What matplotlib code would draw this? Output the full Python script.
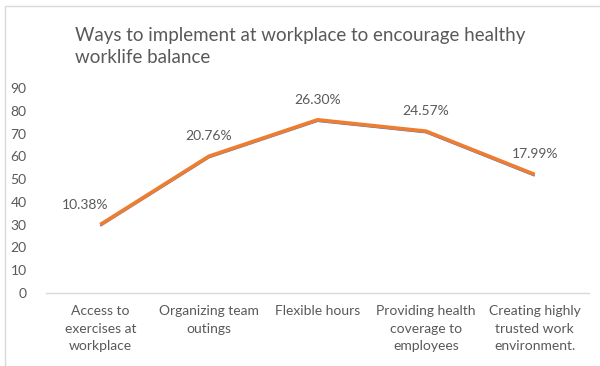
import matplotlib
matplotlib.use("Agg")
import matplotlib.pyplot as plt
import matplotlib.transforms as mtransforms
from matplotlib.patches import Rectangle

# data (counts out of 289 responses)
categories = ["Access to\nexercises at\nworkplace", "Organizing team\noutings",
              "Flexible hours", "Providing health\ncoverage to\nemployees",
              "Creating highly\ntrusted work\nenvironment."]
counts = [30, 60, 76, 71, 52]
pct_labels = ["10.38%", "20.76%", "26.30%", "24.57%", "17.99%"]
title = "Ways to implement at workplace to encourage healthy\nworklife balance"

plt.rcParams['font.family'] = ['Lato', 'DejaVu Sans']
grey = "#595959"

fig = plt.figure(figsize=(6, 3.66), dpi=100)
ax = fig.add_axes([0.0767, 0.1995, 0.905, 0.5601])

x = list(range(len(categories)))
# blue series peeking out just below the orange one
shift = mtransforms.offset_copy(ax.transData, fig=fig, x=0, y=-1.2, units='dots')
ax.plot(x, counts, color="#4472C4", lw=1.4, transform=shift, solid_capstyle='butt')
ax.plot(x, counts, color="#ED7D31", lw=2.7, solid_capstyle='butt')

for i, (v, lab) in enumerate(zip(counts, pct_labels)):
    dx = -15 if i == 0 else 0
    ax.annotate(lab, (i, v), xytext=(dx * 0.72, 14.5), textcoords='offset points',
                ha='center', va='center', fontsize=10, color=grey)

ax.set_xlim(-0.5, len(categories) - 0.5)
ax.set_ylim(0, 90)
ax.set_yticks(range(0, 91, 10))
ax.set_xticks(x)
ax.set_xticklabels(categories, fontsize=10, color=grey, linespacing=1.55, va='top')
ax.tick_params(axis='y', length=0, labelsize=10, labelcolor=grey, pad=14)
ax.tick_params(axis='x', length=0, pad=9)
for s in ['top', 'right', 'left']:
    ax.spines[s].set_visible(False)
ax.spines['bottom'].set_color("#D9D9D9")
ax.spines['bottom'].set_linewidth(1)

fig.text(0.125, 0.925, title, fontsize=13.5, color=grey, ha='left', va='top',
         linespacing=1.35)

# chart frame
fig.patches.append(Rectangle((5 / 600, -0.1), 1.2, 1 - 6 / 366 + 0.1,
                             transform=fig.transFigure, fill=False,
                             edgecolor="#D9D9D9", lw=1, clip_on=False))

fig.savefig("out.png", dpi=100)
